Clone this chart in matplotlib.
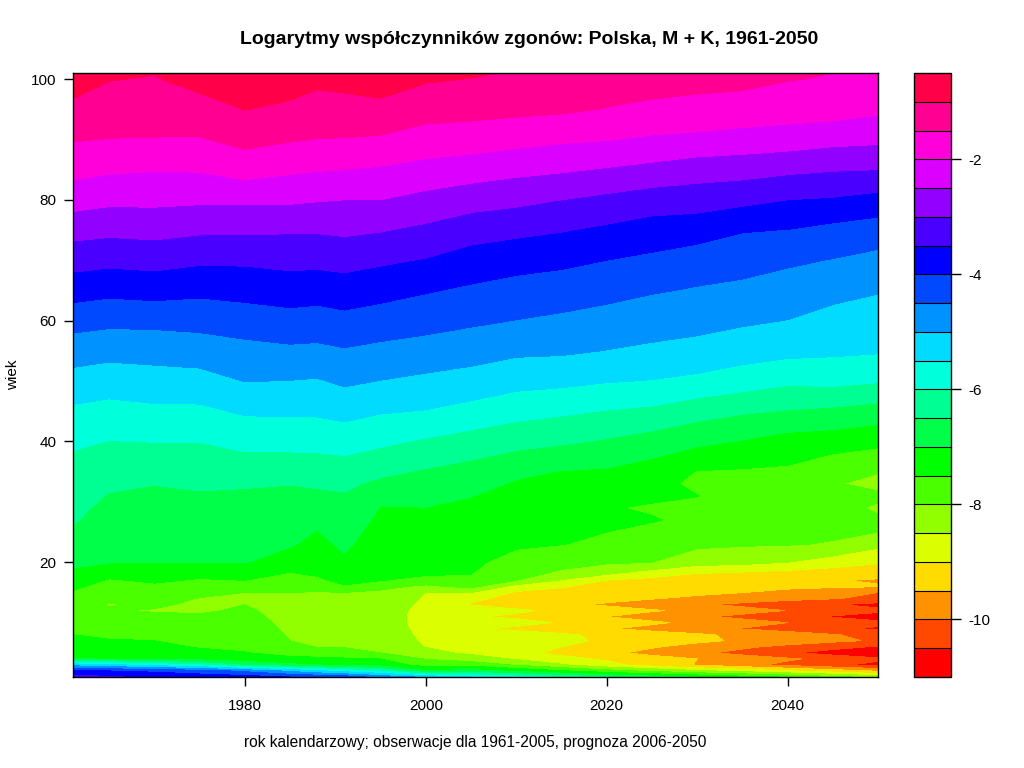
import numpy as np
import matplotlib
matplotlib.use('Agg')
import matplotlib.pyplot as plt
from matplotlib.colors import hsv_to_rgb

plt.rcParams['font.family'] = ['Liberation Sans', 'DejaVu Sans']

ages = [1, 2, 3, 4, 5, 6, 7, 8, 9, 10, 11, 12, 13, 14, 15, 16, 17, 18,
        20, 23, 25, 27, 29, 31, 33, 35,
        40, 45, 50, 55, 60, 65, 70, 75, 80, 85, 90, 95, 100, 101]
years = [1961, 1965, 1970, 1975, 1980, 1985, 1988, 1991, 1995, 2000,
         2005, 2010, 2015, 2020, 2025, 2030, 2035, 2040, 2045, 2050]

# log death rates, one list per year, ages as above
y1961 = [-3.3, -3.9, -5.2, -7, -7.15, -7.3, -7.4, -7.5, -7.62, -7.72, -7.8, -7.85, -7.8, -7.7, -7.55, -7.4, -7.25, -7.1,
         -6.91, -6.7, -6.56, -6.46, -6.39, -6.31, -6.23, -6.16,
         -5.93, -5.59, -5.19, -4.77, -4.31, -3.79, -3.31, -2.82, -2.3, -1.85, -1.47, -1.12, -.78, -.72]
y1965 = [-3.45, -4, -5.4, -7.05, -7.2, -7.35, -7.47, -7.58, -7.7, -7.8, -7.9, -7.97, -8.02, -7.95, -7.85, -7.7, -7.55, -7.35,
         -6.98, -6.86, -6.78, -6.69, -6.61, -6.53, -6.42, -6.31,
         -6.01, -5.66, -5.27, -4.84, -4.38, -3.87, -3.37, -2.88, -2.39, -1.93, -1.51, -1.25, -.98, -.93]
y1970 = [-3.6, -4.1, -5.7, -7.12, -7.28, -7.4, -7.5, -7.62, -7.75, -7.85, -7.93, -8.03, -7.93, -7.85, -7.72, -7.58, -7.43, -7.28,
         -7, -6.88, -6.81, -6.73, -6.65, -6.57, -6.49, -6.35,
         -5.99, -5.6, -5.21, -4.81, -4.37, -3.81, -3.33, -2.84, -2.39, -1.98, -1.52, -1.27, -1.03, -.98]
y1975 = [-3.7, -4.3, -6, -7.2, -7.4, -7.53, -7.63, -7.72, -7.8, -7.87, -7.95, -8.05, -8.08, -8.02, -7.87, -7.7, -7.55, -7.38,
         -7, -6.88, -6.79, -6.71, -6.62, -6.54, -6.44, -6.31,
         -5.99, -5.6, -5.18, -4.76, -4.33, -3.89, -3.42, -2.92, -2.42, -1.96, -1.53, -1.18, -.84, -.77]
y1980 = [-3.8, -4.6, -6.6, -7.3, -7.48, -7.6, -7.68, -7.75, -7.8, -7.85, -7.9, -7.95, -8, -8.08, -8, -7.75, -7.5, -7.35,
         -6.98, -6.87, -6.79, -6.71, -6.63, -6.56, -6.46, -6.29,
         -5.85, -5.44, -4.99, -4.65, -4.26, -3.83, -3.42, -2.92, -2.42, -1.79, -1.36, -.99, -.65, -.6]
y1985 = [-4, -5.1, -6.9, -7.4, -7.65, -7.85, -8, -8.04, -8.07, -8.1, -8.12, -8.13, -8.12, -8.08, -8, -7.85, -7.7, -7.55,
         -7.26, -6.95, -6.86, -6.77, -6.68, -6.58, -6.49, -6.3,
         -5.84, -5.42, -5.01, -4.59, -4.18, -3.76, -3.36, -2.95, -2.42, -1.92, -1.46, -1.09, -.78, -.72]
y1988 = [-4.1, -5.4, -7, -7.4, -7.75, -8.02, -8.08, -8.12, -8.15, -8.18, -8.2, -8.18, -8.15, -8.1, -8.03, -7.8, -7.6, -7.45,
         -7.34, -7.15, -7.02, -6.88, -6.73, -6.57, -6.45, -6.27,
         -5.84, -5.42, -5.04, -4.61, -4.21, -3.8, -3.37, -2.95, -2.47, -1.97, -1.51, -1.2, -.89, -.82]
y1991 = [-4.2, -5.7, -7.1, -7.45, -7.8, -8.03, -8.1, -8.14, -8.17, -8.2, -8.22, -8.2, -8.15, -8.1, -8, -7.55, -7.35, -7.25,
         -7.09, -6.9, -6.81, -6.72, -6.63, -6.54, -6.41, -6.24,
         -5.79, -5.34, -4.92, -4.54, -4.14, -3.74, -3.33, -2.91, -2.5, -2, -1.52, -1.15, -.87, -.8]
y1995 = [-4.7, -6, -7.2, -7.5, -8, -8.12, -8.2, -8.25, -8.28, -8.3, -8.3, -8.3, -8.25, -8.2, -8.1, -7.85, -7.48, -7.45,
         -7.35, -7.3, -7.2, -7.1, -7.02, -6.82, -6.6, -6.4,
         -5.9, -5.46, -5.01, -4.62, -4.23, -3.83, -3.42, -2.97, -2.5, -2.06, -1.56, -1.15, -.74, -.67]
y2000 = [-5.1, -6.95, -7.7, -8.03, -8.35, -8.52, -8.57, -8.6, -8.63, -8.65, -8.65, -8.63, -8.6, -8.55, -8.5, -8.1, -7.7, -7.45,
         -7.35, -7.23, -7.16, -7.08, -7.01, -6.86, -6.71, -6.55,
         -6.06, -5.52, -5.11, -4.69, -4.33, -3.96, -3.53, -3.1, -2.65, -2.17, -1.7, -1.31, -.95, -.88]
y2005 = [-5.5, -6.8, -7.7, -8.25, -8.6, -8.75, -8.75, -8.8, -8.93, -8.85, -8.95, -8.85, -9.02, -8.95, -8.5, -7.85, -7.65, -7.5,
         -7.42, -7.3, -7.23, -7.15, -7.07, -6.99, -6.84, -6.68,
         -6.21, -5.66, -5.2, -4.79, -4.42, -4.08, -3.7, -3.3, -2.78, -2.27, -1.75, -1.34, -1.01, -.95]
y2010 = [-5.8, -7.1, -8.05, -8.55, -8.86, -8.8, -8.75, -8.8, -9.09, -8.85, -9.08, -8.93, -9.19, -9.08, -9.05, -8.7, -8, -7.8,
         -7.65, -7.44, -7.36, -7.28, -7.2, -7.12, -7.05, -6.9,
         -6.33, -5.83, -5.33, -4.91, -4.51, -4.18, -3.82, -3.38, -2.88, -2.37, -1.84, -1.38, -1.08, -1.03]
y2015 = [-6.15, -7.45, -8.45, -8.85, -9.12, -9, -8.9, -8.93, -9.28, -9.04, -9.29, -9.1, -9.38, -9.2, -9.12, -8.97, -8.55, -8.15,
         -7.78, -7.49, -7.42, -7.33, -7.25, -7.18, -7.1, -7.02,
         -6.43, -5.92, -5.38, -4.93, -4.59, -4.25, -3.89, -3.47, -3, -2.44, -1.93, -1.42, -1.17, -1.12]
y2020 = [-6.5, -7.8, -8.85, -9.08, -9.39, -9.23, -9.07, -9.1, -9.46, -9.23, -9.5, -9.28, -9.57, -9.33, -9.2, -9.13, -9.02, -8.5,
         -7.92, -7.58, -7.5, -7.42, -7.47, -7.3, -7.18, -7.06,
         -6.55, -6.02, -5.47, -5.01, -4.69, -4.34, -4, -3.59, -3.12, -2.54, -1.98, -1.52, -1.25, -1.2]
y2025 = [-6.8, -8.1, -9.2, -9.3, -9.65, -9.45, -9.23, -9.27, -9.65, -9.42, -9.71, -9.45, -9.75, -9.47, -9.3, -9.2, -9.15, -8.83,
         -8, -7.78, -7.62, -7.47, -7.55, -7.42, -7.35, -7.22,
         -6.72, -6.1, -5.52, -5.09, -4.77, -4.46, -4.1, -3.72, -3.25, -2.64, -2.07, -1.6, -1.3, -1.25]
y2030 = [-7.05, -8.4, -9.53, -9.5, -9.9, -9.68, -9.4, -9.43, -9.83, -9.62, -9.92, -9.63, -9.93, -9.6, -9.4, -9.27, -9.22, -9.05,
         -8.3, -7.9, -7.75, -7.6, -7.62, -7.49, -7.6, -7.52,
         -6.89, -6.3, -5.62, -5.14, -4.86, -4.54, -4.25, -3.78, -3.28, -2.77, -2.13, -1.62, -1.38, -1.35]
y2035 = [-7.3, -8.65, -9.85, -9.72, -10.15, -9.91, -9.57, -9.6, -10.02, -9.81, -10.12, -9.82, -10.11, -9.73, -9.49, -9.33, -9.3, -9.15,
         -8.35, -7.95, -7.83, -7.78, -7.74, -7.68, -7.62, -7.55,
         -7.03, -6.44, -5.76, -5.28, -4.93, -4.62, -4.3, -3.97, -3.37, -2.81, -2.2, -1.69, -1.38, -1.35]
y2040 = [-7.55, -8.95, -10.13, -9.93, -10.44, -10.13, -9.73, -9.78, -10.2, -10, -10.33, -10.01, -10.29, -9.85, -9.65, -9.38, -9.36, -9.25,
         -8.5, -7.97, -7.88, -7.82, -7.78, -7.73, -7.65, -7.58,
         -7.2, -6.53, -5.91, -5.36, -5.01, -4.73, -4.42, -4.01, -3.5, -2.9, -2.25, -1.76, -1.48, -1.45]
y2045 = [-7.85, -9.25, -10.4, -10.15, -10.7, -10.33, -9.9, -9.97, -10.39, -10.19, -10.54, -10.2, -10.46, -9.97, -9.82, -9.42, -9.47, -9.3,
         -8.75, -8.03, -7.93, -7.87, -7.88, -7.85, -7.97, -7.85,
         -7.26, -6.6, -5.87, -5.41, -5.16, -4.86, -4.52, -4.14, -3.55, -2.97, -2.35, -1.78, -1.53, -1.5]
y2050 = [-8.2, -9.55, -10.65, -10.4, -10.95, -10.55, -10.06, -10.15, -10.57, -10.38, -10.75, -10.38, -10.65, -10.12, -10, -9.47, -9.55, -9.35,
         -8.95, -8.37, -8, -7.95, -8.05, -7.93, -8.1, -7.98,
         -7.37, -6.71, -5.96, -5.45, -5.22, -4.97, -4.64, -4.25, -3.67, -3, -2.4, -1.9, -1.6, -1.55]

columns = [y1961, y1965, y1970, y1975, y1980, y1985, y1988, y1991, y1995, y2000,
           y2005, y2010, y2015, y2020, y2025, y2030, y2035, y2040, y2045, y2050]
z = np.array(columns).T

levels = np.arange(-11, -0.25, 0.5)
n = len(levels) - 1
# same as R's rainbow(n)
band_colors = [hsv_to_rgb((i / n, 1, 1)) for i in range(n)]

fig = plt.figure(figsize=(10.24, 7.68), dpi=100)
W, H = 1024.0, 768.0
ax = fig.add_axes([73 / W, 1 - 677 / H, 805 / W, 604 / H])
cax = fig.add_axes([914 / W, 1 - 677 / H, 36.5 / W, 604 / H])

cf = ax.contourf(years, ages, z, levels=levels, colors=band_colors, antialiased=False)
ax.set_xlim(1961, 2050)
ax.set_ylim(1, 101)
ax.set_xticks([1980, 2000, 2020, 2040])
ax.set_yticks([20, 40, 60, 80, 100])
ax.tick_params(axis='x', length=6.5, width=1, labelsize=11, pad=9.5)
ax.tick_params(axis='y', length=6.5, width=1, labelsize=11, pad=5.5)
for s in ax.spines.values():
    s.set_linewidth(1)

cb = fig.colorbar(cf, cax=cax, drawedges=True, ticks=[-2, -4, -6, -8, -10])
cb.dividers.set_color('black')
cb.dividers.set_linewidth(0.8)
cb.outline.set_linewidth(1)
cb.ax.tick_params(length=7.2, width=1, labelsize=11, pad=5.8)
cb.ax.set_yticklabels(['-2', '-4', '-6', '-8', '-10'])

fig.text(529 / W, 1 - 39.5 / H, 'Logarytmy współczynników zgonów: Polska, M + K, 1961-2050',
         ha='center', va='center', fontsize=14, fontweight='bold')
fig.text(475 / W, 1 - 743 / H, 'rok kalendarzowy; obserwacje dla 1961-2005, prognoza 2006-2050',
         ha='center', va='center', fontsize=11.2)
fig.text(13 / W, 1 - 375 / H, 'wiek', rotation=90, ha='center', va='center', fontsize=11)

fig.savefig('out.png', dpi=100)
